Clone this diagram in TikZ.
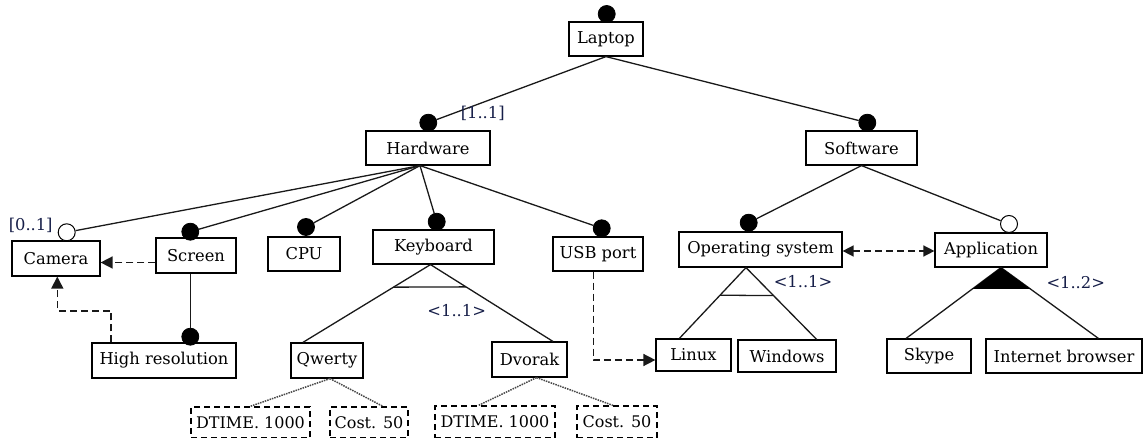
\documentclass[tikz,border=0pt]{standalone}
\usepackage{fontspec}
\setmainfont{DejaVu Serif}
\usetikzlibrary{arrows.meta,calc}
\definecolor{lab}{RGB}{22,30,72}
\definecolor{ink}{RGB}{25,25,25}
\begin{document}
\begin{tikzpicture}[x=1pt,y=-1pt,
  feat/.style={draw=black, line width=1.2pt, inner sep=0pt, minimum height=34pt,
    font=\fontsize{16.3}{20}\selectfont, fill=white},
  attr/.style={draw=black, line width=1.2pt, dash pattern=on 6pt off 4pt, inner sep=0pt,
    minimum height=31pt, font=\fontsize{16}{20}\selectfont},
  mand/.style={circle, fill=black, draw=black, line width=0.8pt, minimum size=17pt, inner sep=0pt},
  opt/.style={circle, fill=white, draw=black, line width=1pt, minimum size=17pt, inner sep=0pt},
  link/.style={draw=ink, line width=1.3pt},
  dep/.style={draw=ink, line width=1.5pt, dash pattern=on 7pt off 4pt,
    -{Triangle[length=12pt,width=12pt]}},
  attrlink/.style={draw=ink!80, line width=1.5pt, dash pattern=on 1.5pt off 1pt},
  card/.style={font=\fontsize{16.3}{20}\selectfont, text=lab, inner sep=0pt},
]
\useasboundingbox (0,0) rectangle (1143,438);

% features
\node[feat, minimum width=74pt] (laptop) at (606,39) {Laptop};
\node[feat, minimum width=124pt] (hw) at (428,148) {Hardware};
\node[feat, minimum width=111pt] (sw) at (861.5,148) {Software};
\node[feat, minimum width=88pt, minimum height=35pt] (camera) at (56,258.5) {Camera};
\node[feat, minimum width=80pt, minimum height=35pt] (screen) at (196,255.5) {Screen};
\node[feat, minimum width=72pt] (cpu) at (304,254) {CPU};
\node[feat, minimum width=121pt] (kbd) at (433.5,247) {Keyboard};
\node[feat, minimum width=90pt] (usb) at (598,254) {USB port};
\node[feat, minimum width=144pt, minimum height=35pt] (hires) at (164,360.5) {High resolution};
\node[feat, minimum width=72pt, minimum height=35pt] (qwerty) at (327,360.5) {Qwerty};
\node[feat, minimum width=75pt, minimum height=35pt] (dvorak) at (529.5,359.5) {Dvorak};
\node[feat, minimum width=163pt, minimum height=35pt] (os) at (760.5,249.5) {Operating system};
\node[feat, minimum width=112pt] (app) at (991,250) {Application};
\node[feat, minimum width=75pt, minimum height=32pt] (linux) at (693.5,355) {Linux};
\node[feat, minimum width=98pt, minimum height=32pt] (win) at (787,356) {Windows};
\node[feat, minimum width=84pt] (skype) at (929,356) {Skype};
\node[feat, minimum width=156pt] (ib) at (1064,356) {Internet browser};

% attributes
\node[attr, minimum width=119pt] (dt1) at (250.5,422.5) {DTIME. 1000};
\node[attr, minimum width=78pt] (co1) at (369,422.5) {Cost. 50};
\node[attr, minimum width=120pt, minimum height=32pt] (dt2) at (495,422) {DTIME. 1000};
\node[attr, minimum width=80pt, minimum height=32pt] (co2) at (617,422) {Cost. 50};

% mandatory / optional markers
\node[mand] (mLaptop) at (606.7,14) {};
\node[mand] (mHw) at (428.3,122.7) {};
\node[mand] (mSw) at (867.3,122.7) {};
\node[opt]  (oCam) at (66.7,232.3) {};
\node[mand] (mScr) at (190.3,231.7) {};
\node[mand] (mCpu) at (306,227) {};
\node[mand] (mKbd) at (436.7,221.7) {};
\node[mand] (mUsb) at (601.7,228.3) {};
\node[mand] (mHr) at (190.3,336.7) {};
\node[mand] (mOs) at (748.7,222.7) {};
\node[opt]  (oApp) at (1009,224) {};

% tree edges
\draw[link] (laptop.south) -- (mHw);
\draw[link] (laptop.south) -- (mSw);
\coordinate (hwfan) at ([xshift=-8pt]hw.south);
\foreach \c in {oCam,mScr,mCpu,mKbd,mUsb} \draw[link] (hwfan) -- (\c);
\draw[link] (sw.south) -- (mOs);
\draw[link] (sw.south) -- (oApp);
\draw[link] (mScr |- screen.south) -- (mHr);

% alternative group under Keyboard
\coordinate (kApex) at ([xshift=-3pt]kbd.south);
\coordinate (kL) at ([xshift=12.5pt]qwerty.north west);
\coordinate (kR) at ([xshift=-14.7pt]dvorak.north east);
\draw[link] (kL) -- (kApex) -- (kR);
\draw[link] ($(kApex)!0.29!(kL)$) -- ($(kApex)!0.29!(kR)$);

% alternative group under Operating system
\coordinate (oApex) at ([xshift=-14.5pt]os.south);
\coordinate (oL) at ([xshift=24pt]linux.north west);
\coordinate (oR) at ([xshift=-20pt]win.north east);
\draw[link] (oL) -- (oApex) -- (oR);
\draw[link] ($(oApex)!0.39!(oL)$) -- ($(oApex)!0.39!(oR)$);

% or group under Application
\coordinate (aApex) at ([xshift=10pt]app.south);
\coordinate (aL) at ([xshift=19.7pt]skype.north west);
\coordinate (aR) at ([xshift=113pt]ib.north west);
\draw[link] (aL) -- (aApex) -- (aR);
\fill[black] (aApex) -- ($(aApex)!0.3!(aL)$) -- ($(aApex)!0.3!(aR)$) -- cycle;

% attribute links
\draw[attrlink] ([xshift=3pt]qwerty.south) -- ([xshift=-0.5pt]dt1.north);
\draw[attrlink] ([xshift=3pt]qwerty.south) -- ([xshift=14pt]co1.north);
\draw[attrlink] ([xshift=7pt]dvorak.south) -- ([xshift=-16.5pt]dt2.north);
\draw[attrlink] ([xshift=7pt]dvorak.south) -- ([xshift=-4pt]co2.north);

% cross-tree constraints
\coordinate (scrL) at ([yshift=-7pt]screen.west);
\draw[dep] (scrL) -- (scrL -| camera.east);
\coordinate (hrT) at ([xshift=19.7pt]hires.north west);
\coordinate (bendA) at (80,311);
\draw[dep] (hrT) |- (bendA) -| ([xshift=1.3pt]camera.south);
\coordinate (usbB) at ([xshift=-4.7pt]usb.south);
\coordinate (linL) at ([yshift=-5pt]linux.west);
\draw[dep] (usbB) |- (linL);
\coordinate (osR) at ([yshift=-1.5pt]os.east);
\draw[dep, {Triangle[length=11pt,width=11pt]}-{Triangle[length=11pt,width=11pt]}]
  (osR) -- (osR -| app.west);

% cardinalities
\node[card] (c11) at (482.7,113.3) {[1..1]};
\node[card] (c01) at (30.7,225) {[0..1]};
\node[card] (g1) at (456.7,311) {\textless1..1\textgreater};
\node[card] (g2) at (803,282) {\textless1..1\textgreater};
\node[card] (g3) at (1075.7,283) {\textless1..2\textgreater};
\end{tikzpicture}
\end{document}
